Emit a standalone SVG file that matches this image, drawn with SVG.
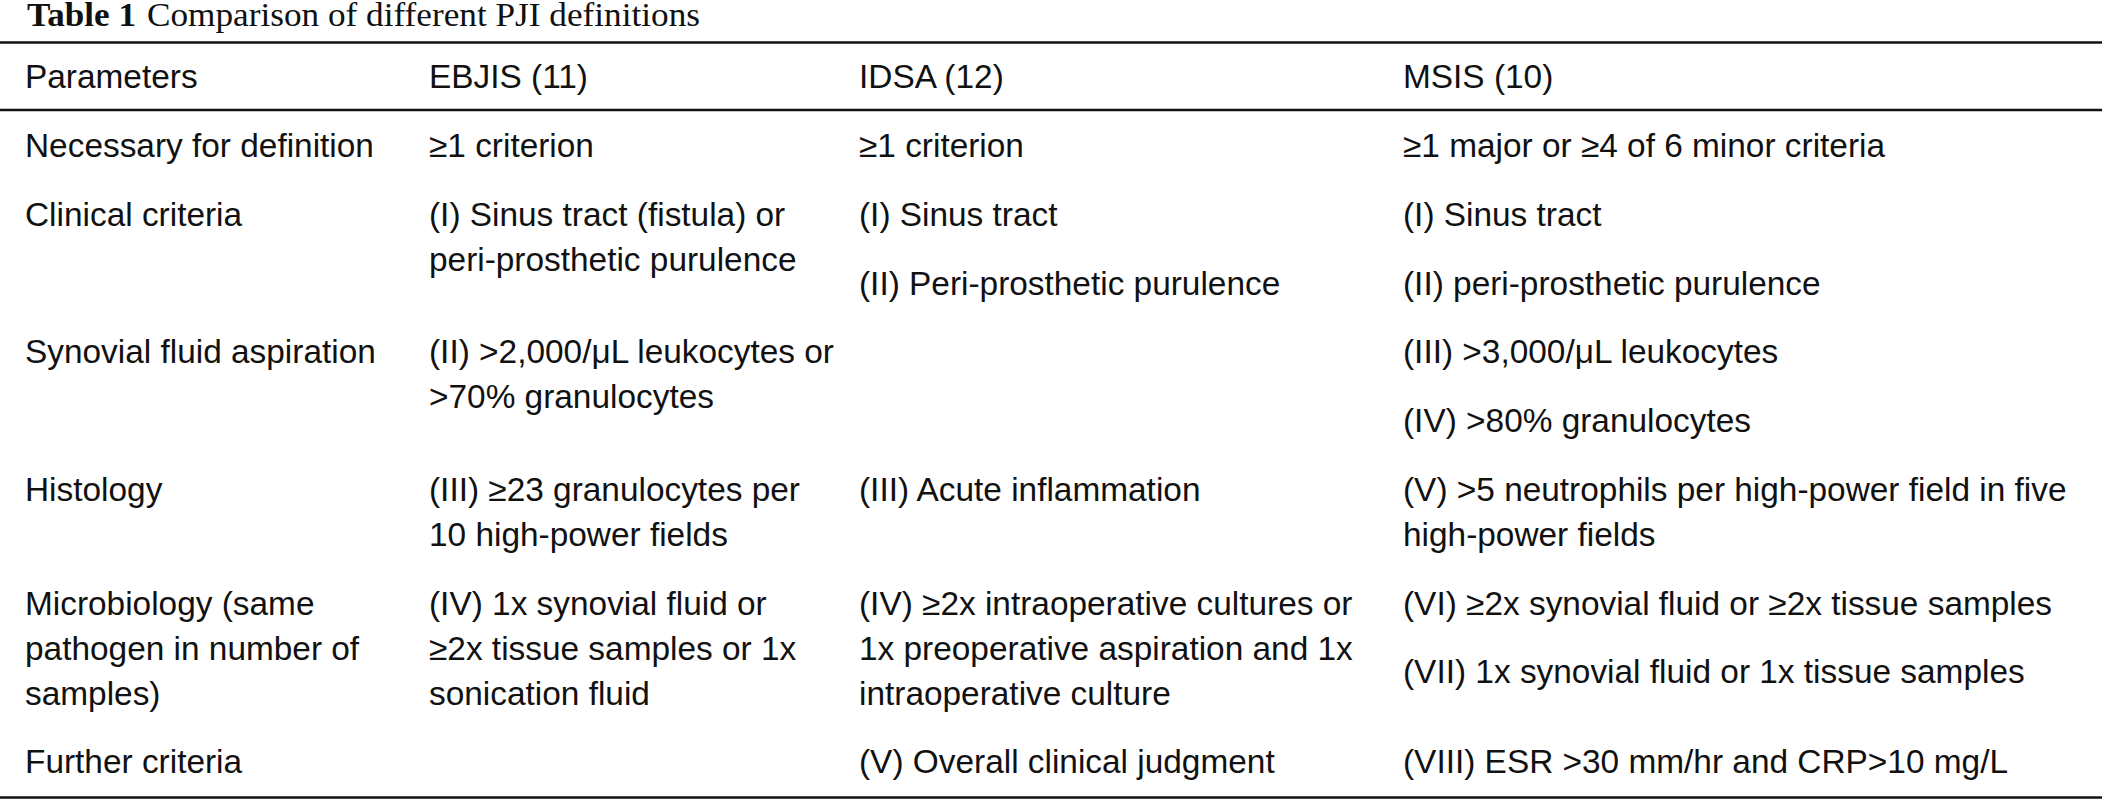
<svg xmlns="http://www.w3.org/2000/svg" width="2102" height="800" viewBox="0 0 2102 800">
<style>
.t{font-family:"Liberation Sans",Arial,Helvetica,sans-serif;font-size:33.4px;fill:#111}
.cap{font-family:"Liberation Serif","Times New Roman",serif;font-size:33px;fill:#111}
.rule{stroke:#111;stroke-width:2.6}
</style>
<rect width="2102" height="800" fill="#fff"/>
<g id="title">
<text class="cap" x="27" y="26" font-weight="bold" textLength="109" lengthAdjust="spacingAndGlyphs">Table 1</text>
<text class="cap" x="147" y="26" textLength="553" lengthAdjust="spacingAndGlyphs">Comparison of different PJI definitions</text>
</g>
<g id="rules">
<line class="rule" x1="0" y1="42.5" x2="2102" y2="42.5"/>
<line class="rule" x1="0" y1="110" x2="2102" y2="110"/>
<line class="rule" x1="0" y1="797.5" x2="2102" y2="797.5"/>
</g>
<g id="header">
<text class="t" x="25" y="88">Parameters</text>
<text class="t" x="429" y="88">EBJIS (11)</text>
<text class="t" x="859" y="88">IDSA (12)</text>
<text class="t" x="1403" y="88">MSIS (10)</text>
</g>
<g id="row-necessary">
<text class="t" x="25" y="157">Necessary for definition</text>
<text class="t" x="429" y="157">≥1 criterion</text>
<text class="t" x="859" y="157">≥1 criterion</text>
<text class="t" x="1403" y="157">≥1 major or ≥4 of 6 minor criteria</text>
</g>
<g id="row-clinical">
<text class="t" x="25" y="226">Clinical criteria</text>
<text class="t" x="429" y="226">(I) Sinus tract (fistula) or</text>
<text class="t" x="429" y="271">peri-prosthetic purulence</text>
<text class="t" x="859" y="226">(I) Sinus tract</text>
<text class="t" x="859" y="295">(II) Peri-prosthetic purulence</text>
<text class="t" x="1403" y="226">(I) Sinus tract</text>
<text class="t" x="1403" y="295">(II) peri-prosthetic purulence</text>
</g>
<g id="row-synovial">
<text class="t" x="25" y="363">Synovial fluid aspiration</text>
<text class="t" x="429" y="363">(II) &gt;2,000/μL leukocytes or</text>
<text class="t" x="429" y="408">&gt;70% granulocytes</text>
<text class="t" x="1403" y="363">(III) &gt;3,000/μL leukocytes</text>
<text class="t" x="1403" y="432">(IV) &gt;80% granulocytes</text>
</g>
<g id="row-histology">
<text class="t" x="25" y="501">Histology</text>
<text class="t" x="429" y="501">(III) ≥23 granulocytes per</text>
<text class="t" x="429" y="546">10 high-power fields</text>
<text class="t" x="859" y="501">(III) Acute inflammation</text>
<text class="t" x="1403" y="501">(V) &gt;5 neutrophils per high-power field in five</text>
<text class="t" x="1403" y="546">high-power fields</text>
</g>
<g id="row-microbiology">
<text class="t" x="25" y="615">Microbiology (same</text>
<text class="t" x="25" y="660">pathogen in number of</text>
<text class="t" x="25" y="705">samples)</text>
<text class="t" x="429" y="615">(IV) 1x synovial fluid or</text>
<text class="t" x="429" y="660">≥2x tissue samples or 1x</text>
<text class="t" x="429" y="705">sonication fluid</text>
<text class="t" x="859" y="615">(IV) ≥2x intraoperative cultures or</text>
<text class="t" x="859" y="660">1x preoperative aspiration and 1x</text>
<text class="t" x="859" y="705">intraoperative culture</text>
<text class="t" x="1403" y="615">(VI) ≥2x synovial fluid or ≥2x tissue samples</text>
<text class="t" x="1403" y="683">(VII) 1x synovial fluid or 1x tissue samples</text>
</g>
<g id="row-further">
<text class="t" x="25" y="773">Further criteria</text>
<text class="t" x="859" y="773">(V) Overall clinical judgment</text>
<text class="t" x="1403" y="773">(VIII) ESR &gt;30 mm/hr and CRP&gt;10 mg/L</text>
</g>
</svg>
